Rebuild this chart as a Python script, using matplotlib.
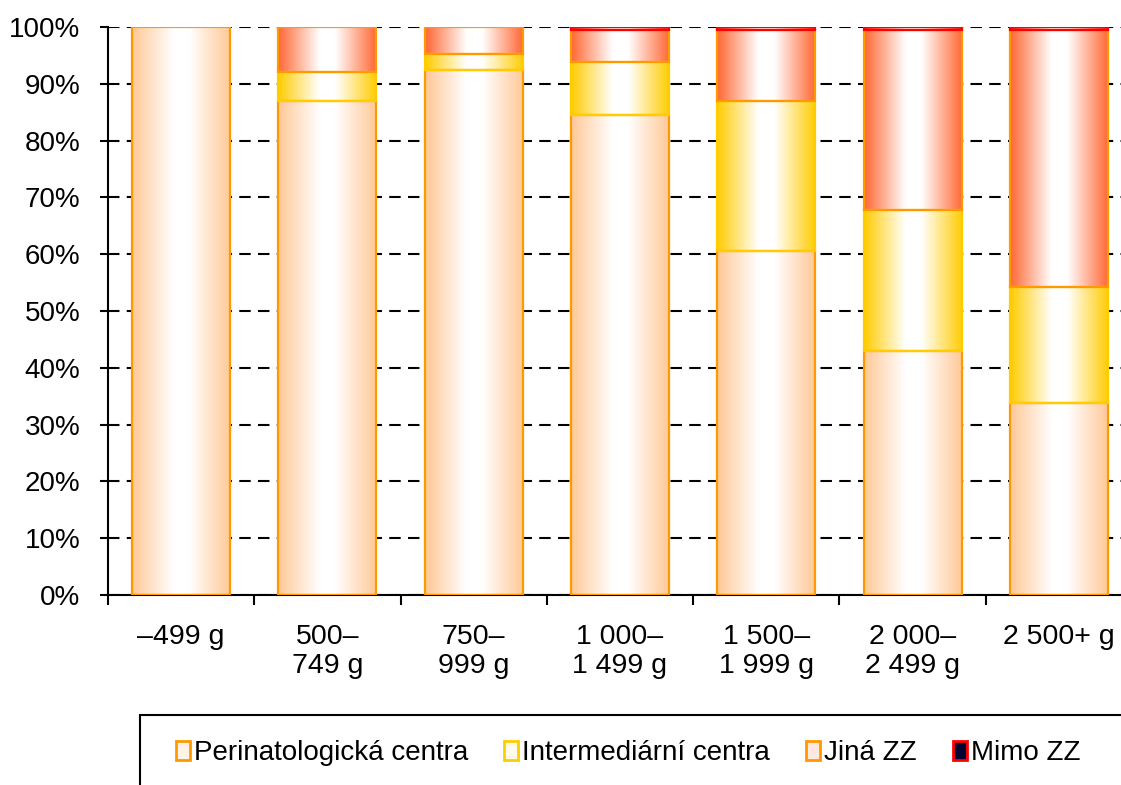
import numpy as np
import matplotlib
matplotlib.use("Agg")
import matplotlib.pyplot as plt
from matplotlib.colors import LinearSegmentedColormap
from matplotlib.patches import Patch, Rectangle

plt.rcParams['font.family'] = ['Liberation Sans', 'DejaVu Sans']

categories = ["\u2013499 g", "500\u2013\n749 g", "750\u2013\n999 g", "1 000\u2013\n1 499 g",
              "1 500\u2013\n1 999 g", "2 000\u2013\n2 499 g", "2 500+ g"]
perinat = [100.0, 87.0, 92.4, 84.5, 60.6, 43.0, 33.8]
intermed = [0.0, 5.1, 2.8, 9.3, 26.4, 24.8, 20.4]
jina = [0.0, 7.9, 4.8, 5.6, 12.5, 31.7, 45.3]
mimo = [0.0, 0.0, 0.0, 0.6, 0.5, 0.5, 0.5]
series_names = ["Perinatologická centra", "Intermediární centra", "Jiná ZZ", "Mimo ZZ"]
y_ticks = [0, 10, 20, 30, 40, 50, 60, 70, 80, 90, 100]

fills = ["#FFC896", "#FFCC00", "#FF6633", "#FF0000"]
edges = ["#FF9900", "#FFCC00", "#FF9900", "#FF0000"]

W, H = 1121, 785
fig = plt.figure(figsize=(W / 100, H / 100), dpi=100)
ax = fig.add_axes([108 / W, (H - 595) / H, (1132 - 108) / W, (595 - 27) / H])

x = np.arange(len(categories))
bw = 0.67
bottom = np.zeros(len(categories))
for vals, fc, ec in zip([perinat, intermed, jina, mimo], fills, edges):
    vals = np.array(vals)
    bars = ax.bar(x, vals, bw, bottom=bottom, facecolor='none', edgecolor=ec,
                  linewidth=1.6, zorder=3)
    cmap = LinearSegmentedColormap.from_list('g', [(0, fc), (0.42, "#FFFFFF"),
                                                   (0.58, "#FFFFFF"), (1, fc)])
    grad = np.linspace(0, 1, 256).reshape(1, -1)
    for p, v in zip(bars.patches, vals):
        if v <= 0:
            p.set_visible(False)
            continue
        bx, by = p.get_x(), p.get_y()
        im = ax.imshow(grad, cmap=cmap, extent=[bx, bx + p.get_width(), by, by + p.get_height()],
                       aspect='auto', zorder=2.5, interpolation='bilinear')
        im.set_clip_path(p)
    bottom += vals

ax.set_xlim(-0.5, len(categories) - 0.5)
ax.set_ylim(0, 100)
ax.set_yticks(y_ticks)
ax.set_yticklabels([f"{t}%" for t in y_ticks], fontsize=20)
ax.set_xticks(x)
ax.set_xticklabels(categories, fontsize=20.5, linespacing=1.12)
ax.set_xticks(np.arange(len(categories) + 1) - 0.5, minor=True)
ax.tick_params(axis='x', which='major', length=0, pad=21)
ax.tick_params(axis='x', which='minor', length=7, width=1.5, direction='out')
ax.tick_params(axis='y', length=6, width=1.5, direction='out', pad=14)

ax.set_axisbelow(True)
ax.yaxis.grid(True, color='black', linewidth=1.5, linestyle=(0, (5.5, 3.5)))
for s in ['top', 'right']:
    ax.spines[s].set_visible(False)
ax.spines['left'].set_linewidth(1.5)
ax.spines['bottom'].set_linewidth(1.5)

# legend frame (cut off by figure edges)
fig.patches.append(Rectangle((140 / W, -0.05), 1.0, (785 - 715) / H + 0.05,
                             transform=fig.transFigure, facecolor='white',
                             edgecolor='black', linewidth=1.5, zorder=1))
leg_fills = ["#FFF3E8", "#FFFBEA", "#FFE8E0", "#000033"]
handles = [Patch(facecolor=f, edgecolor=e, linewidth=2) for f, e in zip(leg_fills, edges)]
fig.legend(handles, series_names, loc='center', bbox_to_anchor=(628 / W, (785 - 753) / H),
           ncol=4, frameon=False, fontsize=20, handlelength=0.5, handleheight=0.65,
           handletextpad=0.15, columnspacing=1.3)

fig.savefig("out.png", dpi=100)
